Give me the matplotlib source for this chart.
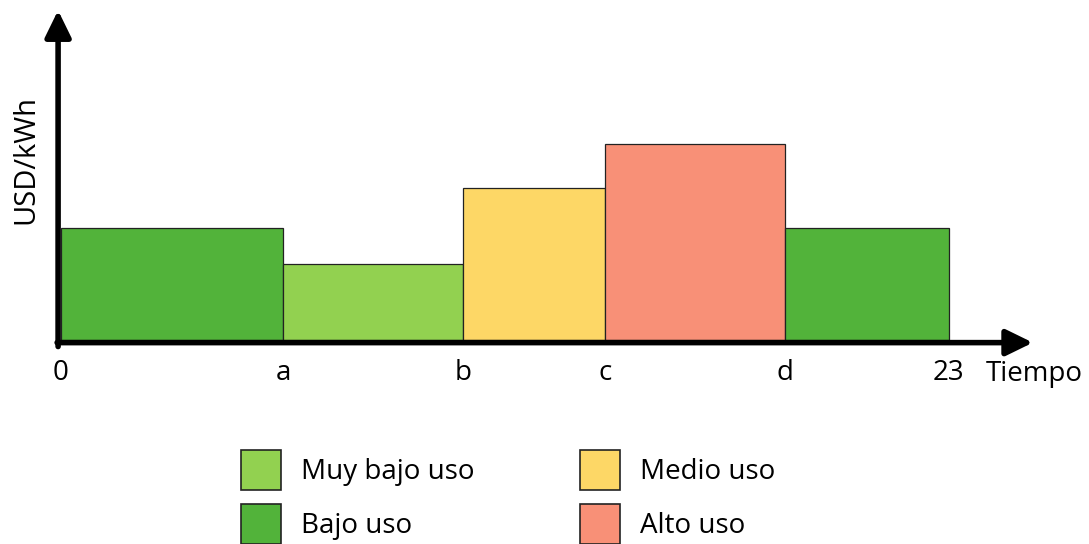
import matplotlib.pyplot as plt
from matplotlib.patches import Patch

# time boundaries (schematic hours) and prices (arbitrary units)
edges = [0, 5.75, 10.41, 14.09, 18.75, 23]
prices = [1.12, 0.76, 1.52, 1.96, 1.12]
levels = ["Bajo uso", "Muy bajo uso", "Medio uso", "Alto uso", "Bajo uso"]
tick_pos = [0, 5.75, 10.41, 14.09, 18.75, 23]
tick_labels = ["0", "a", "b", "c", "d", "23"]

colors = {
    "Muy bajo uso": "#92D150",
    "Bajo uso": "#52B33A",
    "Medio uso": "#FDD766",
    "Alto uso": "#F89077",
}
legend_order = ["Muy bajo uso", "Bajo uso", "Medio uso", "Alto uso"]

plt.rcParams['font.family'] = ['Open Sans', 'DejaVu Sans']
fs = 20

fig = plt.figure(figsize=(10.89, 5.44), dpi=100)
ax = fig.add_axes([61 / 1089, 204 / 544, 969 / 1089, 328 / 544])

lefts = edges[:-1]
widths = [edges[i + 1] - edges[i] for i in range(len(prices))]
ax.bar(lefts, prices, width=widths, align='edge',
       color=[colors[l] for l in levels], edgecolor='#222222', linewidth=0.9, zorder=1)

ax.set_xlim(0, 25.1)
ax.set_ylim(0, 3.28)
for s in ax.spines.values():
    s.set_visible(False)

# axis arrows
arrow = dict(arrowstyle='-|>,head_length=0.45,head_width=0.22', color='black',
             lw=4, mutation_scale=36, shrinkA=0, shrinkB=0)
ax.annotate('', xy=(1.003, -0.008), xytext=(-0.004, -0.008), xycoords='axes fraction',
            arrowprops=arrow, zorder=3, annotation_clip=False)
ax.annotate('', xy=(-0.003, 1.005), xytext=(-0.003, -0.02), xycoords='axes fraction',
            arrowprops=arrow, zorder=3, annotation_clip=False)

ax.set_xticks(tick_pos)
ax.set_xticklabels(tick_labels, fontsize=fs)
ax.tick_params(axis='x', length=0, pad=14)
ax.set_yticks([])
ax.text(0.954, -0.104, "Tiempo", transform=ax.transAxes, fontsize=fs,
        ha='left', va='center')

ax.set_ylabel("USD/kWh", fontsize=21)
ax.yaxis.set_label_coords(-0.021, 0.55)

handles = [Patch(facecolor=colors[l], edgecolor='#222222', linewidth=1.2) for l in legend_order]
fig.legend(handles, legend_order, ncol=2, loc='upper left',
           bbox_to_anchor=(241 / 1089, 94 / 544), frameon=False, fontsize=fs,
           handlelength=1.44, handleheight=1.84, handletextpad=0.72,
           labelspacing=0.5, columnspacing=3.8, borderpad=0, borderaxespad=0)

fig.savefig("out.png", dpi=100)
